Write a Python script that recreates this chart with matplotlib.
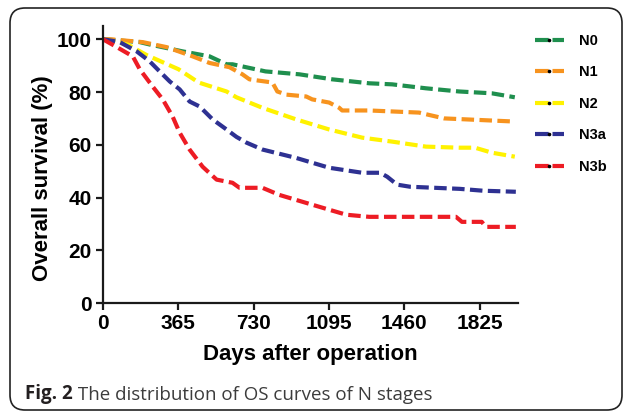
import numpy as np
import matplotlib.pyplot as plt
from matplotlib.lines import Line2D
from matplotlib.patches import FancyBboxPatch

# survival curves (days, %)
n0_days = [0, 179, 227, 386, 517, 599, 628, 788, 952, 1111, 1290, 1401, 1565, 1725, 1884, 1995]
n0_surv = [100, 98.9, 98, 95.4, 93.5, 90.5, 90.5, 87.8, 86.7, 84.8, 83.3, 82.9, 81.4, 80.2, 79.5, 78]

n1_days = [0, 34, 193, 309, 435, 517, 613, 676, 710, 821, 845, 889, 985, 1014, 1096, 1145, 1159, 1290, 1531, 1652, 1995]
n1_surv = [100, 100, 98.9, 97, 93.5, 91, 89.4, 86.7, 84.8, 83.6, 80.2, 79, 78.3, 77.2, 76, 74, 73, 73, 72.2, 70, 68.8]

n2_days = [0, 120, 212, 367, 464, 599, 647, 773, 937, 1096, 1256, 1401, 1565, 1725, 1802, 1884, 1995]
n2_surv = [100, 98, 94, 88.6, 83.6, 80.2, 78, 74, 69.6, 65.8, 62.7, 61.2, 59.3, 58.9, 58.9, 57, 55.5]

n3a_days = [0, 82, 164, 227, 275, 324, 372, 420, 469, 532, 599, 647, 696, 773, 937, 1096, 1256, 1343, 1377, 1425, 1488, 1729, 1840, 2000]
n3a_surv = [100, 98.9, 95.4, 91.6, 87.8, 84, 81, 76.4, 74.5, 69.6, 65.8, 63, 60.8, 58.2, 55, 51.3, 49.4, 49.4, 47.9, 44.9, 44.1, 43.3, 42.6, 42.2]

n3b_days = [0, 68, 145, 179, 242, 290, 338, 372, 420, 483, 551, 628, 662, 773, 855, 1014, 1096, 1179, 1290, 1710, 1739, 1835, 1855, 2000]
n3b_surv = [100, 97, 93.5, 88.6, 82, 77.2, 70.7, 64.6, 58.2, 51.7, 46.8, 45.6, 43.7, 43.7, 41, 37.3, 35.4, 33.5, 32.7, 32.7, 30.8, 30.8, 28.9, 28.9]

labels = ['N0', 'N1', 'N2', 'N3a', 'N3b']
colors = ['#1f8f4e', '#f7931e', '#fff200', '#2e3192', '#ed1c24']
xticks = [0, 365, 730, 1095, 1460, 1825]
yticks = [0, 20, 40, 60, 80, 100]

series = [(n0_days, n0_surv), (n1_days, n1_surv), (n2_days, n2_surv),
          (n3a_days, n3a_surv), (n3b_days, n3b_surv)]

plt.rcParams['font.family'] = ['Liberation Sans', 'DejaVu Sans']

fig = plt.figure(figsize=(6.27, 4.13), dpi=100)
ax = fig.add_axes([0.164, 0.266, 0.662, 0.671])

dash = (0, (3.0, 1.3))
for (d, s), c in zip(series, colors):
    ax.plot(d, s, color=c, lw=3, ls=dash, dash_capstyle='butt')

ax.set_xlim(0, 2010)
ax.set_ylim(0, 105)
ax.set_xticks(xticks)
ax.set_yticks(yticks)
for sp in ['top', 'right']:
    ax.spines[sp].set_visible(False)
for sp in ['left', 'bottom']:
    ax.spines[sp].set_linewidth(1.6)
    ax.spines[sp].set_color('#1a1a1a')
ax.tick_params(direction='out', length=5, width=1.6, color='#1a1a1a', labelsize=15, pad=3)
for t in ax.get_xticklabels() + ax.get_yticklabels():
    t.set_fontweight('bold')
ax.set_xlabel('Days after operation', fontsize=16, fontweight='bold', labelpad=8)
ax.set_ylabel('Overall survival (%)', fontsize=16, fontweight='bold')
ax.yaxis.set_label_coords(-0.12, 0.45)

handles = [Line2D([], [], color=c, lw=3, ls=(0, (3.3, 0.9)), marker='o', ms=1.6,
                  mfc='k', mec='k') for c in colors]
fig.legend(handles, labels, loc='upper left', bbox_to_anchor=(0.832, 0.95),
           frameon=False, numpoints=1, handlelength=2.0, handletextpad=1.0,
           labelspacing=1.2, prop={'weight': 'bold', 'size': 10.5})

# rounded frame around the figure
frame = FancyBboxPatch((0.1, 0.03), 6.12, 4.02, boxstyle='round,pad=0,rounding_size=0.15',
                       transform=fig.dpi_scale_trans, fill=False, ec='#222222', lw=1.2)
fig.patches.append(frame)

cap1 = fig.text(25 / 627, 1 - 399 / 413, 'Fig. 2', fontsize=13.5, fontweight='bold',
                family=['Open Sans', 'DejaVu Sans'], color='#231f20', va='baseline')
fig.add_artist(plt.Annotation(' The distribution of OS curves of N stages', xy=(1, 0),
                              xycoords=cap1, xytext=(0, 0), textcoords='offset points',
                              fontsize=13.5, family=['Open Sans', 'DejaVu Sans'],
                              color='#3c3c3c', va='bottom', ha='left'))

fig.savefig('out.png', dpi=100)
